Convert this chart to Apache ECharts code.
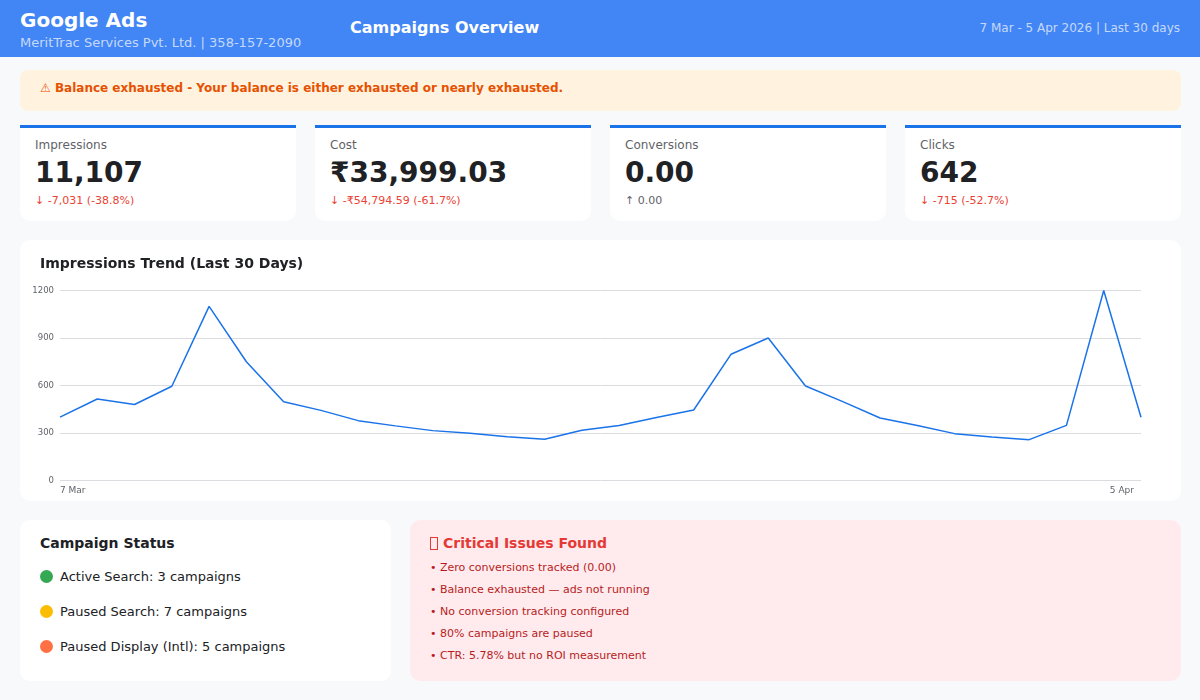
<!DOCTYPE html>
<html><head><meta charset="utf-8">
<script src="https://cdn.jsdelivr.net/npm/echarts@6/dist/echarts.min.js"></script>
<style>
*{box-sizing:border-box;margin:0;padding:0}
html,body{width:1200px;height:700px;overflow:hidden;background:#f8f9fa;font-family:"DejaVu Sans",sans-serif;color:#202124}
.abs{position:absolute;white-space:nowrap}
#head{position:absolute;left:0;top:0;width:1200px;height:57px;background:#4285f4}
#alert{position:absolute;left:20px;top:70px;width:1161px;height:41px;background:#fff3e0;border-radius:8px}
.card{position:absolute;top:125px;width:276px;height:96px;background:#fff;border-top:3px solid #1a73e8;border-radius:0 0 10px 10px}
.card .l{position:absolute;left:15px;top:10px;font-size:12px;color:#5f6368;line-height:14px;white-space:nowrap}
.card .v{position:absolute;left:15px;top:28px;font-size:28px;font-weight:700;color:#202124;line-height:34px;white-space:nowrap}
.card .d{position:absolute;left:15px;top:66px;font-size:11px;line-height:13px;color:#ea4335;white-space:nowrap}
.card .d.n{color:#5f6368}
#chartCard{position:absolute;left:20px;top:240px;width:1161px;height:261px;background:#fff;border-radius:10px}
#chart{position:absolute;left:0;top:0;width:1161px;height:261px}
#status{position:absolute;left:20px;top:520px;width:371px;height:161px;background:#fff;border-radius:10px}
#issues{position:absolute;left:410px;top:520px;width:771px;height:161px;background:#ffebee;border-radius:10px}
.dot{position:absolute;width:13px;height:13px;border-radius:50%;left:20px}
.st{position:absolute;left:40px;font-size:13px;line-height:16px;color:#202124;white-space:nowrap}
.is{position:absolute;left:20px;font-size:11px;line-height:13px;color:#b71c1c;white-space:nowrap}
</style></head><body>
<div id="head">
<div class="abs" style="left:20px;top:7px;font-size:20px;font-weight:700;color:#fff;line-height:26px">Google Ads</div>
<div class="abs" style="left:20px;top:35px;font-size:13px;color:rgba(255,255,255,.7);line-height:16px">MeritTrac Services Pvt. Ltd. | 358-157-2090</div>
<div class="abs" style="left:350px;top:18px;font-size:16px;font-weight:700;color:#fff;line-height:20px">Campaigns Overview</div>
<div class="abs" style="right:20px;top:21px;font-size:12px;color:rgba(255,255,255,.7);line-height:15px">7 Mar - 5 Apr 2026 | Last 30 days</div>
</div>
<div id="alert"><div class="abs" style="left:20px;top:11px;font-size:12px;font-weight:700;color:#e65100;line-height:15px">⚠ Balance exhausted - Your balance is either exhausted or nearly exhausted.</div></div>
<div id="cards"></div>
<div id="chartCard"><div id="chart"></div></div>
<div id="status">
<div class="abs" style="left:20px;top:15px;font-size:14px;font-weight:700;line-height:17px">Campaign Status</div>
<div id="statusRows"></div>
</div>
<div id="issues">
<div class="abs" style="left:33px;top:14px;font-size:14px;font-weight:700;line-height:18px;color:#e53935">Critical Issues Found</div>
<div class="abs" style="left:20px;top:17px;width:8px;height:13px;border:1px solid #e53935"></div>
<div id="issueRows"></div>
</div>
<script>
const kpiLabels=["Impressions","Cost","Conversions","Clicks"];
const kpiValues=["11,107","₹33,999.03","0.00","642"];
const kpiDeltas=["↓ -7,031 (-38.8%)","↓ -₹54,794.59 (-61.7%)","↑ 0.00","↓ -715 (-52.7%)"];
const statusLabels=["Active Search: 3 campaigns","Paused Search: 7 campaigns","Paused Display (Intl): 5 campaigns"];
const statusColors=["#34a853","#fbbc04","#ff7043"];
const issueLabels=["Zero conversions tracked (0.00)","Balance exhausted — ads not running","No conversion tracking configured","80% campaigns are paused","CTR: 5.78% but no ROI measurement"];
const dates=["7 Mar","8 Mar","9 Mar","10 Mar","11 Mar","12 Mar","13 Mar","14 Mar","15 Mar","16 Mar","17 Mar","18 Mar","19 Mar","20 Mar","21 Mar","22 Mar","23 Mar","24 Mar","25 Mar","26 Mar","27 Mar","28 Mar","29 Mar","30 Mar","31 Mar","1 Apr","2 Apr","3 Apr","4 Apr","5 Apr"];
const impressions=[400,515,480,595,1100,750,497,443,378,345,315,298,276,260,317,347,398,445,797,900,597,498,395,347,296,275,258,348,1200,400];
const yTicks=[0,300,600,900,1200];

const cards=document.getElementById('cards');
kpiLabels.forEach((t,i)=>{
  const c=document.createElement('div');c.className='card';c.style.left=(20+295*i)+'px';
  c.innerHTML='<div class="l">'+t+'</div><div class="v">'+kpiValues[i]+'</div><div class="d'+(kpiDeltas[i][0]==='↑'?' n':'')+'">'+kpiDeltas[i]+'</div>';
  cards.appendChild(c);
});
const sr=document.getElementById('statusRows');
statusLabels.forEach((t,i)=>{
  sr.insertAdjacentHTML('beforeend','<div class="dot" style="top:'+(50+35*i)+'px;background:'+statusColors[i]+'"></div><div class="st" style="top:'+(49+35*i)+'px">'+t+'</div>');
});
const ir=document.getElementById('issueRows');
issueLabels.forEach((t,i)=>{
  ir.insertAdjacentHTML('beforeend','<div class="is" style="top:'+(41+22*i)+'px">• '+t+'</div>');
});
const chart=echarts.init(document.getElementById('chart'),null,{renderer:'canvas'});
chart.setOption({
  animation:false,
  title:{text:'Impressions Trend (Last 30 Days)',left:20,top:17,padding:0,textStyle:{fontFamily:'DejaVu Sans',fontSize:14,fontWeight:'bold',color:'#202124'}},
  grid:{left:40,right:40,top:50.5,bottom:20.5,containLabel:false},
  xAxis:{type:'category',data:dates,boundaryGap:false,
    axisLine:{show:false},axisTick:{show:false},splitLine:{show:false},
    axisLabel:{fontFamily:'DejaVu Sans',fontSize:9,color:'#5f6368',margin:6,alignMinLabel:'left',alignMaxLabel:'right',padding:[0,7,0,0],
      interval:(i)=>i===0||i===dates.length-1,showMinLabel:true,showMaxLabel:true}},
  yAxis:{type:'value',min:yTicks[0],max:yTicks[yTicks.length-1],interval:300,
    axisLine:{show:false},axisTick:{show:false},
    splitLine:{lineStyle:{color:'#dadce0',width:1}},
    axisLabel:{fontFamily:'DejaVu Sans',fontSize:8.5,color:'#5f6368',margin:6,formatter:(v)=>String(v)}},
  series:[{type:'line',data:impressions,smooth:false,symbol:'none',lineStyle:{color:'#1a73e8',width:1.5}}]
});
</script>
</body></html>
